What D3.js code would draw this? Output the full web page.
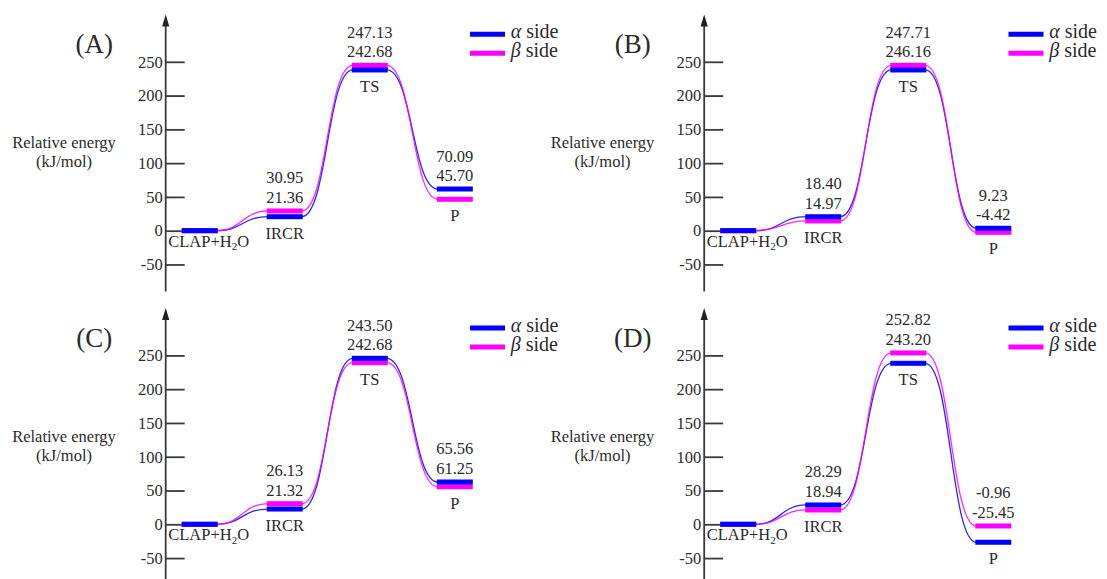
<!DOCTYPE html>
<html>
<head>
<meta charset="utf-8">
<script src="https://cdn.jsdelivr.net/npm/d3@7"></script>
<style>
  html, body { margin: 0; padding: 0; background: #fff; }
  svg { display: block; }
  text { font-family: "Liberation Serif", "Times New Roman", serif; fill: #2b2b2b; }
</style>
</head>
<body>
<svg id="chart" width="1107" height="579"></svg>
<script>
// ---------------- DATA ----------------
const panels = ["A", "B", "C", "D"];
const stages = ["CLAP+H2O", "IRCR", "TS", "P"];
const seriesNames = ["α side", "β side"];
const tickValues = [-50, 0, 50, 100, 150, 200, 250];

// printed energies (kJ/mol), per panel, per stage
const alphaLabel = [
  [0, 21.36, 242.68, 70.09],
  [0, 18.40, 246.16, 9.23],
  [0, 21.32, 243.50, 65.56],
  [0, 28.29, 243.20, -25.45]
];
const betaLabel = [
  [0, 30.95, 247.13, 45.70],
  [0, 14.97, 247.71, -4.42],
  [0, 26.13, 242.68, 61.25],
  [0, 18.94, 252.82, -0.96]
];
// levels at which the bars are drawn in the figure
const alphaDrawn = [
  [0, 20.7, 237.9, 61.7],
  [0, 20.7, 237.9, 3.6],
  [0, 22.6, 245.7, 62.6],
  [0, 28.6, 238.3, -26.6]
];
const betaDrawn = [
  [0, 29.2, 244.8, 46.5],
  [0, 14.4, 244.8, -2.4],
  [0, 30.5, 239.2, 55.6],
  [0, 21.2, 253.6, -2.5]
];

// ---------------- STYLE / LAYOUT ----------------
const colors = { alpha: "#0000ff", beta: "#ff00ff" };
const panelOrigin = [[165.7, 14.5], [704.2, 14.5], [165.7, 308.1], [704.2, 308.1]];
const barW = 36, barH = 5;

const svg = d3.select("#chart");

const y = d3.scaleLinear().domain([-90, 320]).range([277, 0]);
const x = d3.scalePoint().domain(stages).range([34, 289.1]);
const link = d3.linkHorizontal().x(d => d[0]).y(d => d[1]);
const fmt = v => v.toFixed(2);

panels.forEach((name, pi) => {
  const g = svg.append("g").attr("transform", `translate(${panelOrigin[pi][0]},${panelOrigin[pi][1]})`);

  // axis line with arrow
  const bottom = pi < 2 ? 277 : 290;
  g.append("line").attr("x1", 0).attr("x2", 0).attr("y1", 8).attr("y2", bottom)
    .attr("stroke", "#3a3a3a").attr("stroke-width", 1.8);
  g.append("path").attr("d", "M0,0 L3.6,12 L-3.6,12 Z").attr("fill", "#222");

  const axis = d3.axisLeft(y).tickValues(tickValues).tickSizeInner(-19).tickSizeOuter(0)
    .tickPadding(3).tickFormat(d => String(d));
  const ag = g.append("g").call(axis);
  ag.select(".domain").remove();
  ag.selectAll(".tick line").attr("stroke", "#3a3a3a").attr("stroke-width", 1.8);
  ag.selectAll(".tick text").attr("font-size", 16.5).attr("fill", "#2b2b2b")
    .attr("font-family", "Liberation Serif, serif");

  // panel letter
  g.append("text").attr("x", -71.5).attr("y", 38.5).attr("text-anchor", "middle")
    .attr("font-size", 27).text(`(${name})`);

  // y label
  g.append("text").attr("x", -101.7).attr("y", 133.8).attr("text-anchor", "middle")
    .attr("font-size", 16.5).text("Relative energy");
  g.append("text").attr("x", -101.7).attr("y", 152.7).attr("text-anchor", "middle")
    .attr("font-size", 16.5).text("(kJ/mol)");

  // legend
  const legend = [
    { key: "alpha", y: 19.8, greek: "α" },
    { key: "beta", y: 38.8, greek: "β" }
  ];
  legend.forEach((l, li) => {
    g.append("line").attr("x1", 304.3).attr("x2", 339.3).attr("y1", l.y).attr("y2", l.y)
      .attr("stroke", colors[l.key]).attr("stroke-width", 5);
    const t = g.append("text").attr("x", 345).attr("y", l.y + 4).attr("font-size", 20);
    t.append("tspan").attr("font-style", "italic").text(l.greek);
    t.append("tspan").text(seriesNames[li].slice(1));
  });

  // connecting curves
  ["alpha", "beta"].forEach(key => {
    const lv = key === "alpha" ? alphaDrawn[pi] : betaDrawn[pi];
    for (let i = 0; i < stages.length - 1; i++) {
      g.append("path")
        .attr("d", link({
          source: [x(stages[i]) + barW / 2 - 1, y(lv[i])],
          target: [x(stages[i + 1]) - barW / 2 + 1, y(lv[i + 1])]
        }))
        .attr("fill", "none").attr("stroke", colors[key]).attr("stroke-width", 1.3)
        .attr("opacity", 0.85);
    }
  });

  // bars: beta first, alpha on top
  ["beta", "alpha"].forEach(key => {
    const lv = key === "alpha" ? alphaDrawn[pi] : betaDrawn[pi];
    g.selectAll(null).data(stages).enter().append("rect")
      .attr("x", d => x(d) - barW / 2)
      .attr("y", (d, i) => y(lv[i]) - barH / 2)
      .attr("width", barW).attr("height", barH)
      .attr("fill", colors[key]);
  });

  // value labels and stage names
  stages.forEach((s, i) => {
    const cx = x(s);
    const ya = y(alphaDrawn[pi][i]), yb = y(betaDrawn[pi][i]);
    const topY = Math.min(ya, yb), lowY = Math.max(ya, yb);
    if (i === 0) {
      const t = g.append("text").attr("x", cx + 9).attr("y", lowY + 16)
        .attr("text-anchor", "middle").attr("font-size", 16.5);
      t.append("tspan").text("CLAP+H");
      t.append("tspan").attr("font-size", 11).attr("dy", 3.5).text("2");
      t.append("tspan").attr("dy", -3.5).text("O");
      return;
    }
    const a = alphaLabel[pi][i], b = betaLabel[pi][i];
    const hi = Math.max(a, b), lo = Math.min(a, b);
    g.append("text").attr("x", cx).attr("y", topY - 27.5).attr("text-anchor", "middle")
      .attr("font-size", 16.5).text(fmt(hi));
    g.append("text").attr("x", cx).attr("y", topY - 8).attr("text-anchor", "middle")
      .attr("font-size", 16.5).text(fmt(lo));
    g.append("text").attr("x", cx).attr("y", lowY + 22).attr("text-anchor", "middle")
      .attr("font-size", 16.5).text(s);
  });
});
</script>
</body>
</html>
